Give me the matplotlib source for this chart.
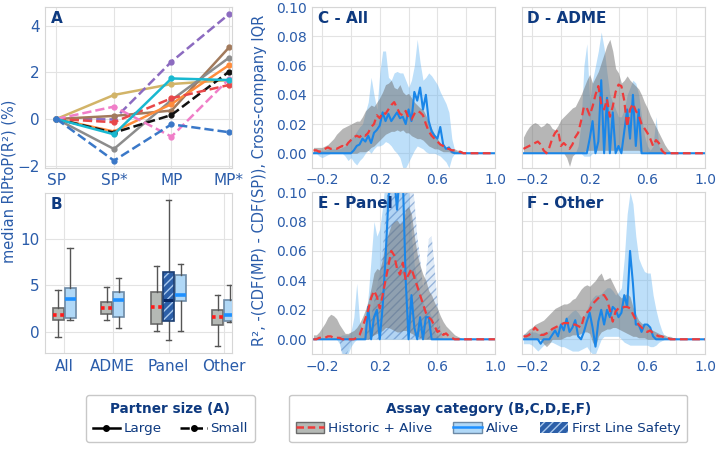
import matplotlib
matplotlib.use("Agg")
import numpy as np
import matplotlib.pyplot as plt
from matplotlib.lines import Line2D
from matplotlib.patches import Patch, Rectangle

TXT = "#2a5caa"
NAVY = "#0e3a80"

# ---------------- panel A: median RIPtoP per partner ----------------
a_steps = ["SP", "SP*", "MP", "MP*"]
a_values = [
    [0, 1.03, 1.50, 1.67],     # tan
    [0, -0.02, 2.46, 4.50],    # purple
    [0, 0.13, 0.36, 3.07],     # brown
    [0, -1.29, 0.81, 2.63],    # gray
    [0, -0.54, 0.64, 2.31],    # orange
    [0, -0.59, 0.17, 2.03],    # black
    [0, -0.14, 0.89, 1.46],    # red
    [0, 0.53, -0.76, 1.71],    # pink
    [0, -0.66, 1.74, 1.67],    # cyan
    [0, -1.79, -0.23, -0.57],  # blue
]
a_colors = ["#d2b468", "#8c6bc0", "#a27a5c", "#8c8c8c", "#ff8c3c",
            "#111111", "#e8484a", "#f07ec8", "#18b8d0", "#3a78c8"]
a_dashed = [False, True, False, False, False, True, True, True, False, True]

# ---------------- panel B: box stats (whislo, q1, med, q3, whishi) ----------------
b_categories = ["All", "ADME", "Panel", "Other"]
b_hist = [[-0.54, 1.25, 1.86, 2.60, 4.54],
          [1.25, 1.93, 2.54, 3.18, 4.79],
          [0.14, 0.89, 2.68, 4.29, 7.07],
          [-1.50, 0.79, 1.57, 2.39, 3.93]]
b_alive = [[1.32, 1.54, 3.54, 4.71, 9.00],
           [0.46, 1.64, 3.39, 4.29, 5.79],
           [0.14, 3.29, 3.93, 6.10, 7.29],
           [1.07, 1.21, 1.82, 3.46, 5.07]]
b_fls_panel = [-0.89, 1.14, 3.46, 6.39, 14.10]

# ---------------- panels C-F: R2 bins, values in 1e-3 ----------------
R2_BINS = [-0.26, -0.24, -0.22, -0.20, -0.18, -0.16, -0.14, -0.12, -0.10, -0.08,
           -0.06, -0.04, -0.02, 0.00, 0.02, 0.04, 0.06, 0.08, 0.10, 0.12,
           0.14, 0.16, 0.18, 0.20, 0.22, 0.24, 0.26, 0.28, 0.30, 0.32,
           0.34, 0.36, 0.38, 0.40, 0.42, 0.44, 0.46, 0.48, 0.50, 0.52,
           0.54, 0.56, 0.58, 0.60, 0.62, 0.64, 0.66, 0.68, 0.70, 0.72,
           0.74, 0.76, 0.78, 0.80, 0.82, 0.84, 0.86, 0.88, 0.90, 0.92,
           0.94, 0.96, 0.98, 1.00]
TAIL = [0] * 10

# C - All
c_gray_lo = [0, 0, 0, 0, 0, 0, 0, 0, 0, 0, 0, 0, 0, 0, 0, 0, 1, 1, 1,
             2, 4, 5, 7, 9, 11, 13, 14, 15, 15, 16, 15, 16, 14, 14,
             12, 11, 10, 10, 9, 7, 5, 4, 3, 3, 2, 1, 1, 1, 0, 0, 0, 0, 0, 0] + TAIL
c_gray_hi = [4, 4, 4, 4, 5, 6, 8, 10, 13, 15, 17, 18, 19, 20, 21, 22, 22, 25, 29,
             31, 33, 32, 35, 38, 42, 47, 48, 50, 45, 44, 47, 42, 40, 41,
             38, 35, 33, 31, 30, 26, 21, 17, 13, 10, 7, 5, 4, 4, 3, 3, 2, 2, 1, 1] + TAIL
c_red = [2, 2, 1, 2, 3, 4, 3, 3, 3, 4, 5, 4, 7, 9, 11, 12, 11, 13, 12,
         14, 18, 20, 26, 24, 28, 27, 30, 33, 35, 31, 27, 26, 29, 24,
         23, 27, 29, 28, 26, 20, 15, 12, 10, 8, 6, 5, 3, 3, 2, 2, 1, 1, 0, 0] + TAIL
c_blue_lo = [0, 0, -2, -3, -2, -1, 0, 0, 0, 0, 0, -2, -5, -3, -6, -8, -5, -3, 0,
             2, 0, 3, 5, 5, 6, 8, 7, 5, 2, 0, -3, -10, -10, -6,
             -2, 2, 5, 4, 3, 1, 0, 0, 0, -1, -2, -4, -6, -10, -3, 0, 0, 0, 0, 0] + TAIL
c_blue_hi = [3, 2, 2, 2, 2, 3, 3, 3, 3, 3, 4, 5, 8, 10, 12, 15, 18, 20, 28,
             35, 52, 40, 30, 55, 70, 70, 52, 50, 55, 56, 55, 55, 50, 45,
             50, 60, 78, 62, 50, 52, 55, 53, 50, 47, 42, 38, 34, 28, 10, 2, 1, 0, 0, 0] + TAIL
c_blue = [0, 0, 0, 0, 0, 0, 0, 0, 0, 0, 0, 0, 0, 0, 2, 5, 6, 10, 8,
          12, 7, 14, 16, 19, 28, 22, 27, 22, 25, 28, 24, 25, 20, 30,
          22, 42, 36, 45, 30, 40, 22, 15, 12, 10, 18, 6, 3, 4, 1, 0, 0, 0, 0, 0] + TAIL

# D - ADME
d_gray_lo = [0, 0, 0, 0, 0, 0, 0, 0, 0, 0, 0, 0, 0, 0, 0, -3, -9, -2, 0,
             0, 0, 1, 2, 2, 2, 2, 2, 2, 2, 2, 2, 2, 2, 2,
             2, 2, 2, 2, 2, 2, 2, 1, 1, 1, 0, 0, 0, 0, 0, 0, 0, 0, 0, 0] + TAIL
d_gray_hi = [11, 15, 18, 20, 21, 20, 18, 19, 21, 20, 17, 16, 19, 23, 25, 27, 29, 31, 32,
             36, 40, 45, 50, 54, 48, 52, 56, 62, 68, 74, 78, 70, 58, 55,
             48, 50, 53, 50, 48, 46, 44, 40, 35, 31, 26, 22, 18, 14, 10, 6, 3, 1, 0, 0] + TAIL
d_red = [3, 4, 5, 6, 7, 8, 6, 2, 0, 4, 10, 14, 16, 5, 7, 5, 3, 6, 11,
         14, 22, 32, 31, 26, 32, 40, 46, 34, 30, 37, 25, 32, 42, 47,
         46, 36, 18, 30, 34, 29, 26, 20, 17, 14, 10, 5, 9, 7, 2, 0, 0, 0, 0, 0] + TAIL
d_blue_lo = [0, 0, 0, 0, 0, 0, 0, 0, 0, 0, 0, 0, 0, 0, 0, 0, 0, 0, 0,
             0, 0, -2, -2, -2, 0, 0, 0, 0, 0, 0, 0, 0, 0, 0,
             0, 0, 0, 0, 0, 0, 0, 0, 0, 0, 0, 0, 0, 0, 0, 0, 0, 0, 0, 0] + TAIL
d_blue_hi = [0, 0, 0, 0, 0, 0, 0, 0, 0, 0, 0, 0, 0, 0, 0, 0, 0, 0, 0,
             5, 20, 60, 75, 35, 50, 60, 70, 83, 72, 55, 40, 35, 30, 25,
             25, 30, 40, 45, 50, 48, 40, 25, 12, 5, 2, 5, 25, 5, 0, 0, 0, 0, 0, 0] + TAIL
d_blue = [0, 0, 0, 0, 0, 0, 0, 0, 0, 0, 0, 0, 0, 0, 0, 0, 0, 0, 0,
          0, 0, 0, 0, 10, 22, 0, 8, 50, 0, 38, 0, 28, 0, 5,
          0, 15, 30, 10, 40, 5, 30, 0, 0, 0, 0, 0, 0, 0, 0, 0, 0, 0, 0, 0] + TAIL

# E - Panel
e_gray_lo = [0, 0, 0, 0, 0, 0, 0, 0, 0, 0, 0, 0, 0, 0, 0, 0, 0, 0, 0,
             0, 2, 3, 4, 5, 6, 8, 8, 7, 6, 5, 5, 6, 6, 5,
             4, 3, 2, 1, 0, 0, 0, 0, 0, 0, 0, 0, 0, 0, 0, 0, 0, 0, 0, 0] + TAIL
e_gray_hi = [3, 3, 5, 8, 11, 15, 17, 16, 14, 10, 7, 4, 4, 5, 6, 8, 11, 15, 20,
             26, 35, 45, 48, 47, 55, 66, 72, 78, 80, 81, 78, 80, 88, 90,
             85, 70, 58, 50, 44, 40, 33, 30, 25, 21, 16, 12, 9, 7, 5, 3, 2, 1, 0, 0] + TAIL
e_red = [0, 0, 1, 1, 1, 2, 2, 1, 1, 1, 0, 0, 0, 0, 0, 1, 3, 8, 14,
         20, 28, 33, 29, 21, 30, 40, 50, 60, 57, 48, 44, 52, 40, 44,
         48, 42, 36, 30, 24, 18, 15, 13, 9, 5, 6, 3, 4, 2, 1, 0, 0, 0, 0, 0] + TAIL
e_blue_lo = [0, 0, 0, 0, 0, 0, 0, 0, 0, -3, -10, -12, -10, -5, -2, 0, 0, 0, 0,
             0, 0, 0, 0, 0, 0, 0, 0, 0, 0, 0, 0, 0, 0, 0,
             0, 0, 0, 0, 0, 0, 0, 0, 0, 0, 0, 0, 0, 0, 0, 0, 0, 0, 0, 0] + TAIL
e_blue_hi = [0, 0, 0, 0, 0, 0, 0, 0, 0, 2, 3, 3, 3, 5, 15, 38, 12, 5, 12,
             30, 55, 80, 70, 75, 90, 110, 120, 120, 120, 120, 120, 120, 120, 100,
             70, 50, 40, 30, 25, 20, 20, 15, 5, 2, 0, 0, 0, 0, 0, 0, 0, 0, 0, 0] + TAIL
e_blue = [0, 0, 0, 0, 0, 0, 0, 0, 0, 0, 0, 0, 0, 0, 0, 0, 0, 0, 0,
          22, 0, 15, 20, 0, 22, 55, 95, 115, 110, 88, 115, 110, 40, 0,
          30, 8, 0, 15, 0, 15, 15, 0, 0, 0, 0, 0, 0, 0, 0, 0, 0, 0, 0, 0] + TAIL
e_fls_lo = [0, 0, 0, 0, 0, 0, 0, 0, 0, 0, -12, -12, -8, -3, 0, 0, 0, 0, 0,
            0, 0, 0, 0, 0, 0, 0, 0, 0, 0, 0, 0, 0, 0, 0,
            0, 0, 0, 0, 0, 0, 0, 0, 0, 0, 0, 0, 0, 0, 0, 0, 0, 0, 0, 0] + TAIL
e_fls_hi = [0, 0, 0, 0, 0, 0, 0, 0, 0, 0, 0, 0, 0, 0, 0, 0, 0, 0, 2,
            8, 15, 25, 35, 45, 60, 85, 110, 110, 110, 110, 110, 110, 110, 110,
            110, 95, 70, 55, 35, 45, 68, 70, 50, 25, 8, 0, 0, 0, 0, 0, 0, 0, 0, 0] + TAIL

# F - Other
f_gray_lo = [0, 0, 0, 0, 0, 0, 0, -3, -5, -3, 0, 0, 0, 0, 1, 2, 2, 3, 3,
             3, 4, 5, 5, 4, -2, -5, 2, 5, 6, 7, 7, 8, 8, 7,
             6, 5, 4, 3, 2, 2, 1, 1, 1, 0, 0, 0, 0, 0, 0, 0, 0, 0, 0, 0] + TAIL
f_gray_hi = [3, 5, 7, 8, 10, 11, 12, 13, 15, 17, 19, 21, 22, 23, 24, 24, 25, 27, 28,
             31, 34, 36, 37, 36, 38, 40, 43, 45, 40, 41, 42, 38, 34, 30,
             28, 30, 31, 29, 22, 17, 13, 11, 10, 9, 7, 6, 5, 4, 3, 3, 2, 2, 1, 1] + TAIL
f_red = [2, 2, 3, 5, 8, 6, 3, 3, 4, 5, 7, 8, 9, 10, 11, 11, 11, 10, 10,
         9, 8, 15, 18, 20, 24, 26, 28, 30, 30, 27, 20, 12, 19, 21,
         21, 22, 22, 21, 17, 13, 10, 8, 6, 5, 6, 4, 3, 2, 2, 1, 1, 0, 0, 0] + TAIL
f_blue_lo = [-3, -3, -3, -4, -6, -8, -6, -4, -3, -2, -2, -3, -4, -5, -5, -6, -7, -8, -8,
             -8, -7, -6, -5, -8, -10, -10, -5, 0, 2, 2, 2, 2, 2, 2,
             0, -2, -3, -4, -4, -4, -4, -4, -4, -4, -5, -5, -4, -2, -1, 0, 0, 0, 0, 0] + TAIL
f_blue_hi = [4, 4, 5, 5, 5, 4, 4, 5, 5, 6, 7, 8, 9, 10, 12, 15, 17, 19, 20,
             18, 15, 16, 20, 25, 28, 30, 30, 31, 33, 35, 35, 33, 30, 32,
             35, 55, 85, 100, 92, 70, 55, 50, 46, 45, 45, 30, 20, 12, 6, 2, 0, 0, 0, 0] + TAIL
f_blue = [0, 0, 0, 0, 0, 0, -3, 0, 0, 0, 3, 6, 2, 10, 6, 14, 5, 8, 13,
          2, 0, 5, 12, 18, 8, -5, 12, 20, 10, 20, 15, 22, 20, 15,
          18, 30, 22, 60, 38, 10, 10, 5, 10, 10, 8, 2, 0, 0, 0, 0, 0, 0, 0, 0] + TAIL

GRAY_FACE = "#b5b9b5"
BLUE_FACE = "#b0d8f7"
FLS_FACE = "#2c5fa8"


def style_axes(ax):
    ax.set_facecolor("white")
    ax.grid(True, color="#e3e3e3", lw=0.8)
    ax.set_axisbelow(True)
    for sp in ax.spines.values():
        sp.set_color("#d6d6d6")
        sp.set_linewidth(0.8)
    ax.tick_params(length=0, labelcolor=TXT, labelsize=10, pad=4)


def panel_title(ax, text):
    ax.text(0.03, 0.975, text, transform=ax.transAxes, ha="left", va="top",
            fontsize=11, fontweight="bold", color=NAVY)


def density_panel(ax, title, g_lo, g_hi, red, b_lo, b_hi, blue, fls=None):
    x = np.array(R2_BINS)
    k = 1e-3
    ax.fill_between(x, np.array(b_lo) * k, np.array(b_hi) * k,
                    color="#6db8f2", alpha=0.45, lw=0)
    if fls is not None:
        ax.fill_between(x, np.array(fls[0]) * k, np.array(fls[1]) * k,
                        facecolor=(0.6, 0.74, 0.9, 0.3), edgecolor=(0.25, 0.45, 0.72, 0.45),
                        hatch="////", lw=0)
    ax.fill_between(x, np.array(g_lo) * k, np.array(g_hi) * k,
                    color="#6e6e6e", alpha=0.5, lw=0)
    ax.plot(x, np.array(blue) * k, color="#1a86e8", lw=1.5)
    ax.plot(x, np.array(red) * k, color="#ee3b3b", lw=1.6, ls=(0, (3.5, 2)))
    ax.set_xlim(-0.27, 1.0)
    ax.set_ylim(-0.01, 0.10)
    ax.set_xticks([-0.2, 0, 0.2, 0.4, 0.6, 0.8, 1.0])
    ax.set_xticklabels(["\u22120.2", "", "0.2", "", "0.6", "", "1.0"])
    ax.set_yticks([0, 0.02, 0.04, 0.06, 0.08, 0.10])
    ax.set_yticklabels(["0.00", "0.02", "0.04", "0.06", "0.08", "0.10"])
    style_axes(ax)
    panel_title(ax, title)


fig = plt.figure(figsize=(7.16, 4.5), dpi=100)
ax_a = fig.add_axes([0.0628, 0.627, 0.261, 0.357])
ax_b = fig.add_axes([0.0628, 0.2156, 0.261, 0.356])
ax_c = fig.add_axes([0.4358, 0.627, 0.2556, 0.357])
ax_d = fig.add_axes([0.729, 0.627, 0.2556, 0.357])
ax_e = fig.add_axes([0.4358, 0.2133, 0.2556, 0.36])
ax_f = fig.add_axes([0.729, 0.2133, 0.2556, 0.36])

# A
xa = np.arange(len(a_steps))
for vals, col, dash in zip(a_values, a_colors, a_dashed):
    ax_a.plot(xa, vals, color=col, ls="--" if dash else "-", lw=1.8,
              marker="o", ms=3.5)
ax_a.set_xticks(xa)
ax_a.set_xticklabels(a_steps)
ax_a.set_xlim(-0.2, 3.05)
ax_a.set_ylim(-2.1, 4.8)
ax_a.set_yticks([-2, 0, 2, 4])
style_axes(ax_a)
ax_a.tick_params(axis="both", labelsize=11)
panel_title(ax_a, "A")

# B
b_pos = [0, 0.88, 1.9, 2.9]


def to_stats(rows):
    return [dict(whislo=r[0], q1=r[1], med=r[2], q3=r[3], whishi=r[4], fliers=[])
            for r in rows]


common = dict(widths=0.2, capwidths=0.1, patch_artist=True, showfliers=False,
              whiskerprops=dict(color="#555555", lw=1.0),
              capprops=dict(color="#555555", lw=1.0))
off2 = [-0.11, -0.11, -0.22, -0.11]
off3 = [0.11, 0.11, 0.22, 0.11]
ax_b.bxp(to_stats(b_hist), positions=[p + o for p, o in zip(b_pos, off2)],
         boxprops=dict(facecolor=GRAY_FACE, edgecolor="#6b6b6b", lw=1.2),
         medianprops=dict(color="#ff1a1a", lw=2.6, ls=(0, (1, 1))), **common)
ax_b.bxp(to_stats(b_alive), positions=[p + o for p, o in zip(b_pos, off3)],
         boxprops=dict(facecolor=BLUE_FACE, edgecolor="#6d8aa6", lw=1.2),
         medianprops=dict(color="#1e90ff", lw=2.6), **common)
ax_b.bxp(to_stats([b_fls_panel]), positions=[b_pos[2]],
         boxprops=dict(facecolor=FLS_FACE, edgecolor="#a9c9ee", lw=0, hatch="////"),
         medianprops=dict(color="#0a2a66", lw=2.2), **common)
s = b_fls_panel
ax_b.add_patch(Rectangle((b_pos[2] - 0.1, s[1]), 0.2, s[3] - s[1], fill=False,
                         edgecolor="#1d3f73", lw=1.2, zorder=2.5))
ax_b.set_xticks(b_pos)
ax_b.set_xticklabels(b_categories)
ax_b.set_xlim(-0.35, 3.05)
ax_b.set_ylim(-2.25, 14.9)
ax_b.set_yticks([0, 5, 10])
style_axes(ax_b)
ax_b.tick_params(axis="both", labelsize=11)
panel_title(ax_b, "B")

density_panel(ax_c, "C - All", c_gray_lo, c_gray_hi, c_red, c_blue_lo, c_blue_hi, c_blue)
density_panel(ax_d, "D - ADME", d_gray_lo, d_gray_hi, d_red, d_blue_lo, d_blue_hi, d_blue)
density_panel(ax_e, "E - Panel", e_gray_lo, e_gray_hi, e_red, e_blue_lo, e_blue_hi, e_blue,
              fls=(e_fls_lo, e_fls_hi))
density_panel(ax_f, "F - Other", f_gray_lo, f_gray_hi, f_red, f_blue_lo, f_blue_hi, f_blue)
ax_d.tick_params(labelleft=False)
ax_f.tick_params(labelleft=False)

fig.text(0.013, 0.598, "median RIPtoP(R\u00b2) (%)", rotation=90, color=TXT,
         fontsize=10.5, ha="center", va="center")
fig.text(0.362, 0.6, "R\u00b2, -(CDF(MP) - CDF(SP)), Cross-company IQR", rotation=90,
         color=TXT, fontsize=10.5, ha="center", va="center")

# legends
h_large = Line2D([], [], color="black", ls="-", marker="o", ms=4, lw=1.8)
h_small = Line2D([], [], color="black", ls="--", marker="o", ms=4, lw=1.8)
leg1 = fig.legend([h_large, h_small], ["Large", "Small"], loc="center",
                  bbox_to_anchor=(0.238, 0.07), ncol=2, title="Partner size (A)",
                  title_fontproperties={"weight": "bold", "size": 9.8}, fontsize=9.7,
                  handlelength=2.0, columnspacing=1.4, handletextpad=0.25,
                  borderpad=0.5, labelcolor=NAVY, edgecolor="#c8c8c8", framealpha=1)
leg1.get_title().set_color(NAVY)

h_hist = (Patch(facecolor=GRAY_FACE, edgecolor="#6b6b6b"),
          Line2D([], [], color="#ee3b3b", ls=(0, (3, 1.5)), lw=1.8))
h_alive = (Patch(facecolor=BLUE_FACE, edgecolor="#6d8aa6"),
           Line2D([], [], color="#1e90ff", lw=1.8))
h_fls = Patch(facecolor=FLS_FACE, edgecolor="#a9c9ee", hatch="////", lw=0)
leg2 = fig.legend([h_hist, h_alive, h_fls], ["Historic + Alive", "Alive", "First Line Safety"],
                  loc="center", bbox_to_anchor=(0.682, 0.07), ncol=3,
                  title="Assay category (B,C,D,E,F)",
                  title_fontproperties={"weight": "bold", "size": 9.8}, fontsize=9.7,
                  handlelength=2.1, handleheight=0.9, columnspacing=1.55, handletextpad=0.3,
                  borderpad=0.5, labelcolor=NAVY, edgecolor="#c8c8c8", framealpha=1)
leg2.get_title().set_color(NAVY)

fig.savefig("out.png", dpi=100)
